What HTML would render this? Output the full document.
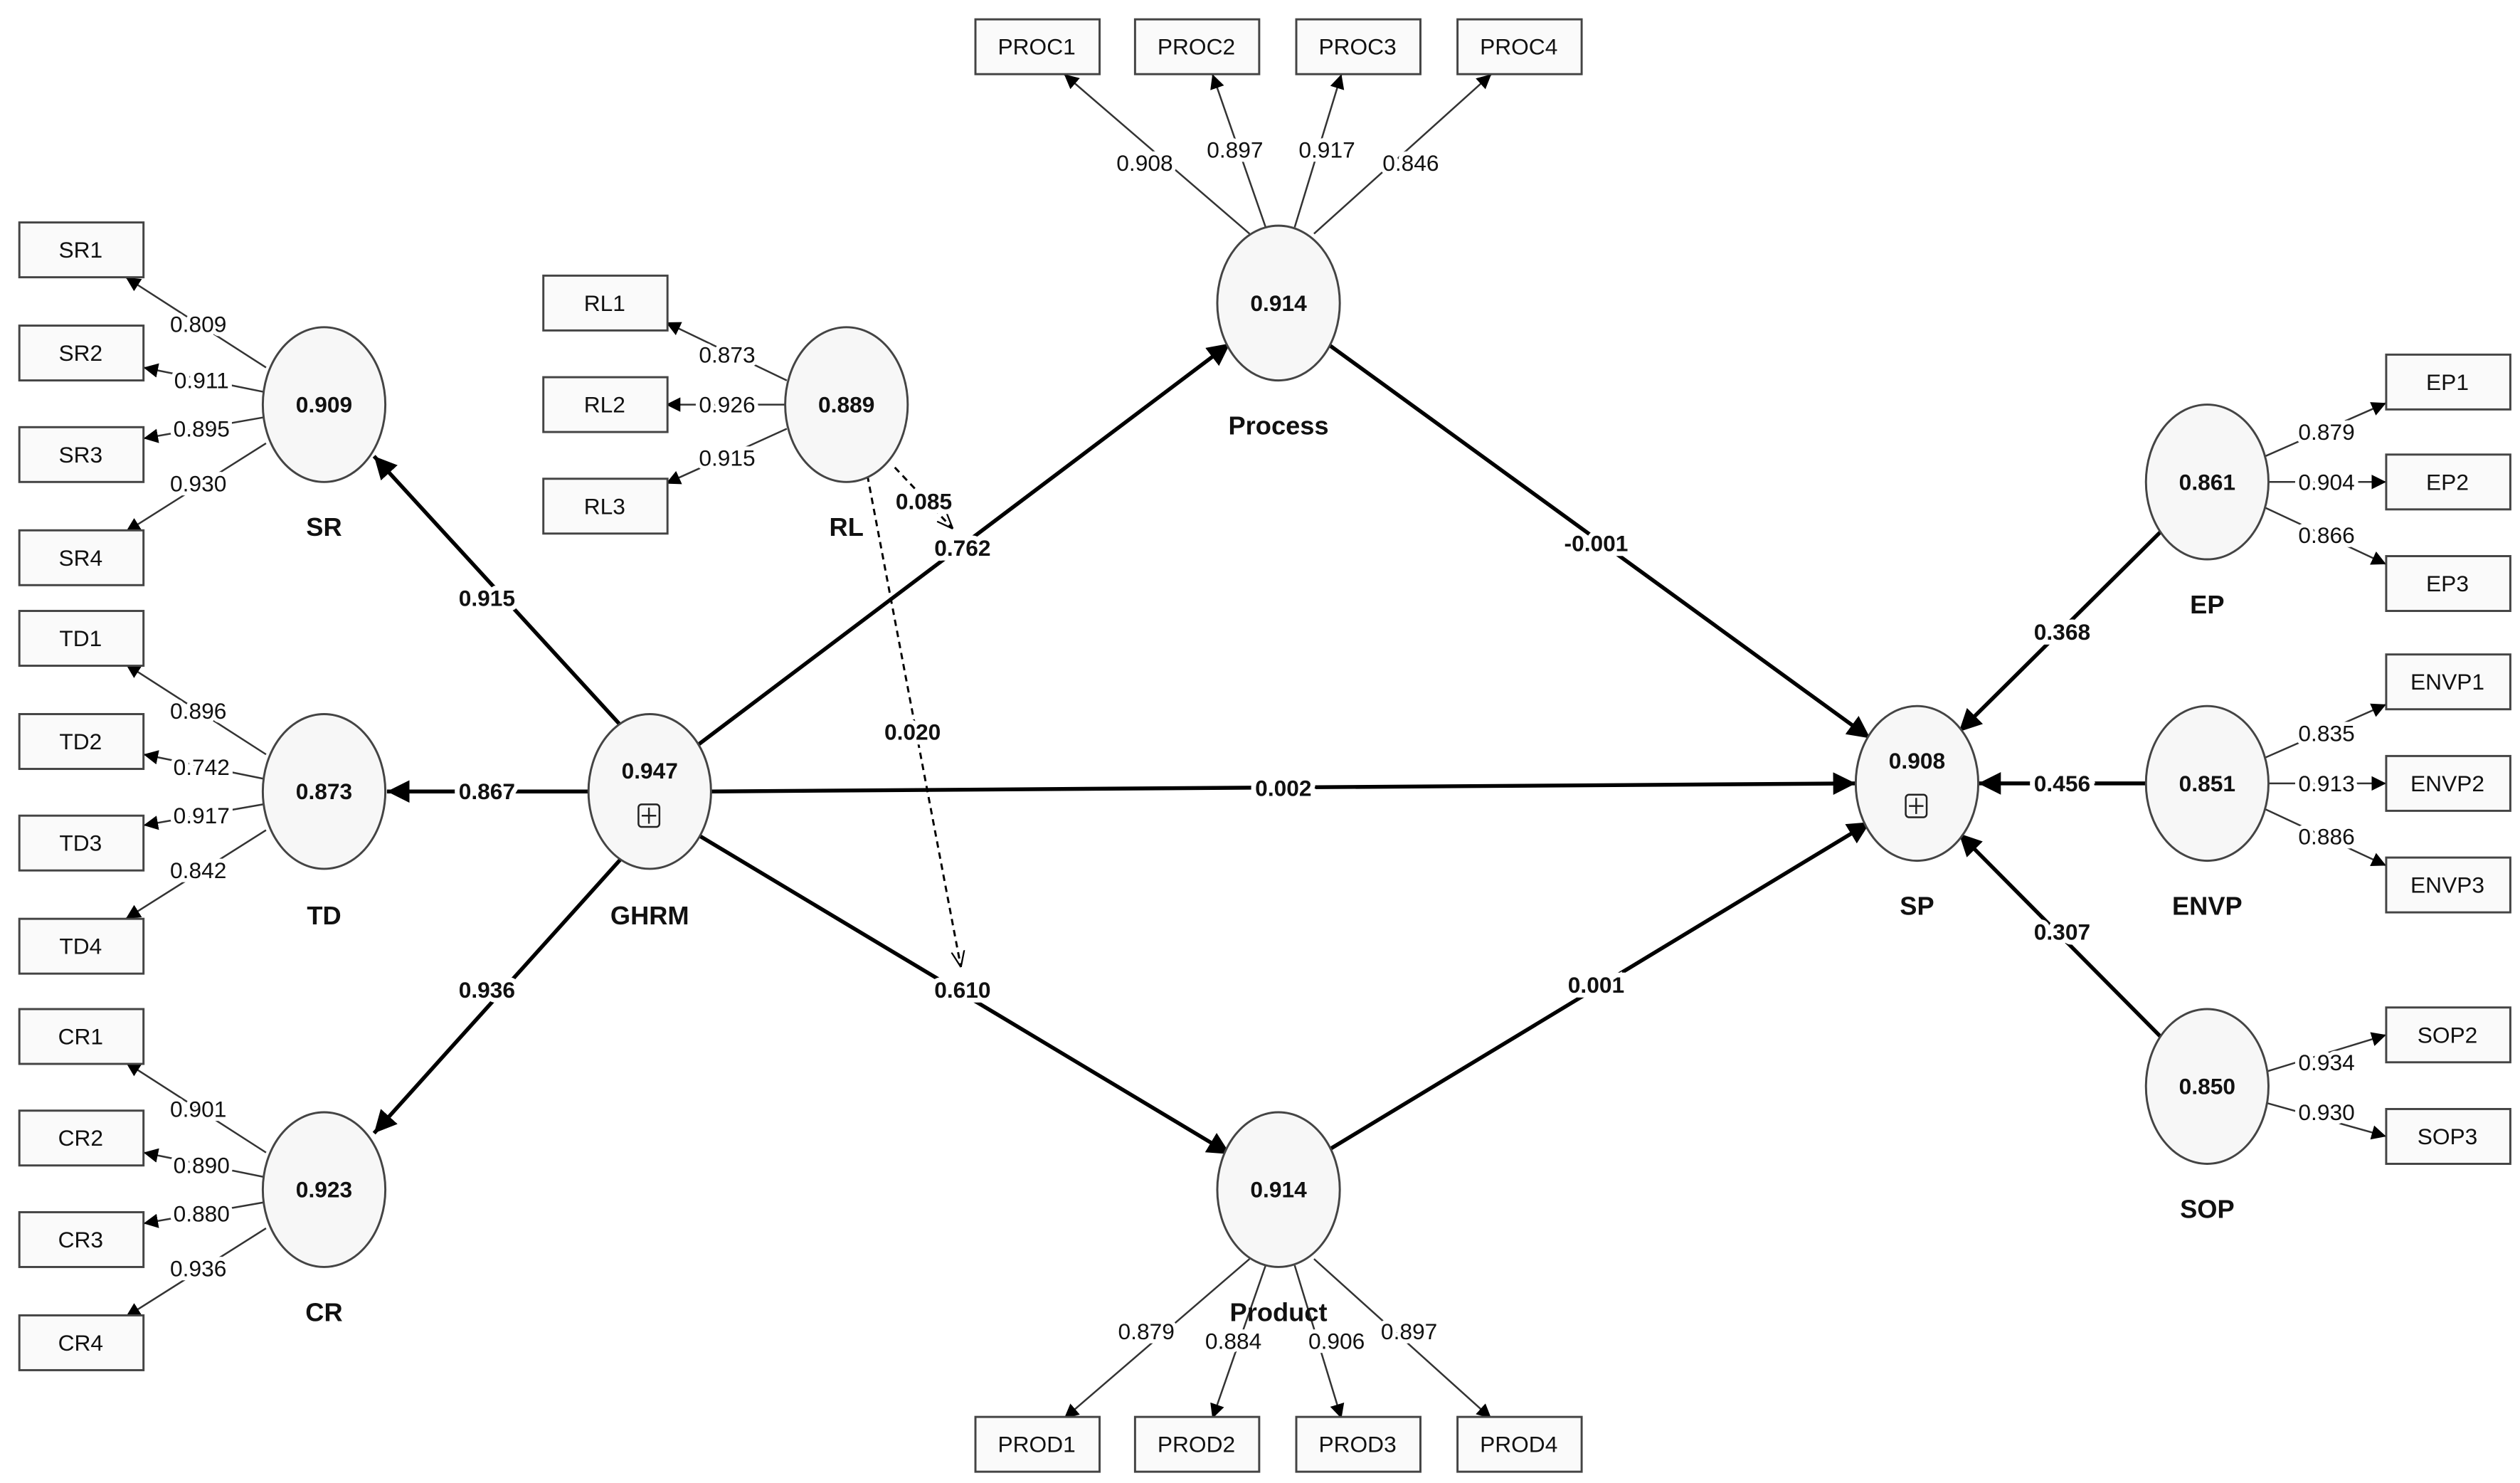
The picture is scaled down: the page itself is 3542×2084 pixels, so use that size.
<!DOCTYPE html>
<html><head><meta charset="utf-8"><style>
html,body{margin:0;padding:0;background:#fff;}
svg{display:block;}
text{font-family:"Liberation Sans Narrow","Liberation Sans",sans-serif;text-anchor:middle;dominant-baseline:central;fill:#111;}
.box{fill:#fafafa;stroke:#444;stroke-width:1.3;}
.ell{fill:#f7f7f7;stroke:#444;stroke-width:1.3;}
.ld{stroke:#333;stroke-width:1.1;fill:none;}
.st{stroke:#000;stroke-width:2.4;fill:none;}
.lbl{font-size:14px;}
.bl{font-size:14px;font-weight:bold;}
.val{font-size:14px;font-weight:bold;}
.nm{font-size:16px;font-weight:bold;}
.bt{font-size:14px;}
</style></head><body>
<svg width="3542" height="2084" viewBox="0 0 1563 920" preserveAspectRatio="none" xmlns="http://www.w3.org/2000/svg">
<defs>
<marker id="a" viewBox="0 0 10 10" refX="10" refY="5" markerWidth="9" markerHeight="9" markerUnits="userSpaceOnUse" orient="auto"><path d="M0,0L10,5L0,10z" fill="#000"/></marker>
<marker id="b" viewBox="0 0 10 10" refX="10" refY="5" markerWidth="14" markerHeight="14" markerUnits="userSpaceOnUse" orient="auto"><path d="M0,0L10,5L0,10z" fill="#000"/></marker>
<marker id="o" viewBox="0 0 10 10" refX="10" refY="5" markerWidth="10" markerHeight="10" markerUnits="userSpaceOnUse" orient="auto"><path d="M0,1L10,5L0,9" fill="none" stroke="#000"/></marker>
</defs>
<g class="ld" marker-end="url(#a)">
<line x1="165" y1="228" x2="78" y2="172"/><line x1="163" y1="243" x2="89" y2="228"/><line x1="163" y1="259" x2="89" y2="272"/><line x1="165" y1="275" x2="78" y2="330"/>
<line x1="165" y1="468" x2="78" y2="412"/><line x1="163" y1="483" x2="89" y2="468"/><line x1="163" y1="499" x2="89" y2="512"/><line x1="165" y1="515" x2="78" y2="570"/>
<line x1="165" y1="715" x2="78" y2="659"/><line x1="163" y1="730" x2="89" y2="715"/><line x1="163" y1="746" x2="89" y2="759"/><line x1="165" y1="762" x2="78" y2="817"/>
<line x1="488" y1="236" x2="413" y2="200"/><line x1="487" y1="251" x2="413" y2="251"/><line x1="488" y1="266" x2="413" y2="300"/>
<line x1="775" y1="145" x2="660" y2="46"/><line x1="785" y1="141" x2="752" y2="46"/><line x1="803" y1="141" x2="832" y2="46"/><line x1="815" y1="145" x2="925" y2="46"/>
<line x1="775" y1="781" x2="660" y2="880"/><line x1="785" y1="785" x2="752" y2="880"/><line x1="803" y1="785" x2="832" y2="880"/><line x1="815" y1="781" x2="925" y2="880"/>
<line x1="1405" y1="283" x2="1480" y2="250"/><line x1="1407" y1="299" x2="1480" y2="299"/><line x1="1405" y1="315" x2="1480" y2="350"/>
<line x1="1405" y1="470" x2="1480" y2="437"/><line x1="1407" y1="486" x2="1480" y2="486"/><line x1="1405" y1="502" x2="1480" y2="537"/>
<line x1="1405" y1="665" x2="1480" y2="642"/><line x1="1405" y1="684" x2="1480" y2="705"/>
</g>
<g class="st" marker-end="url(#b)">
<line x1="385" y1="450" x2="232" y2="283"/><line x1="365" y1="491" x2="240" y2="491"/><line x1="385" y1="533" x2="232" y2="703"/>
<line x1="433" y1="462" x2="763" y2="213"/><line x1="441" y1="491" x2="1151" y2="486"/><line x1="433" y1="518" x2="763" y2="716"/>
<line x1="823" y1="213" x2="1160" y2="458"/><line x1="823" y1="714" x2="1160" y2="510"/>
<line x1="1340" y1="330" x2="1215" y2="454"/><line x1="1331" y1="486" x2="1227" y2="486"/><line x1="1340" y1="643" x2="1215" y2="517"/>
</g>
<g stroke="#000" stroke-width="1.3" stroke-dasharray="4,3" fill="none" marker-end="url(#o)">
<line x1="555" y1="290" x2="591" y2="328"/><line x1="538" y1="295" x2="596" y2="600"/>
</g>
<!-- boxes -->
<g>
<rect class="box" x="12" y="138" width="77" height="34"/><text class="bt" x="50" y="155">SR1</text>
<rect class="box" x="12" y="202" width="77" height="34"/><text class="bt" x="50" y="219">SR2</text>
<rect class="box" x="12" y="265" width="77" height="34"/><text class="bt" x="50" y="282">SR3</text>
<rect class="box" x="12" y="329" width="77" height="34"/><text class="bt" x="50" y="346">SR4</text>
<rect class="box" x="12" y="379" width="77" height="34"/><text class="bt" x="50" y="396">TD1</text>
<rect class="box" x="12" y="443" width="77" height="34"/><text class="bt" x="50" y="460">TD2</text>
<rect class="box" x="12" y="506" width="77" height="34"/><text class="bt" x="50" y="523">TD3</text>
<rect class="box" x="12" y="570" width="77" height="34"/><text class="bt" x="50" y="587">TD4</text>
<rect class="box" x="12" y="626" width="77" height="34"/><text class="bt" x="50" y="643">CR1</text>
<rect class="box" x="12" y="689" width="77" height="34"/><text class="bt" x="50" y="706">CR2</text>
<rect class="box" x="12" y="752" width="77" height="34"/><text class="bt" x="50" y="769">CR3</text>
<rect class="box" x="12" y="816" width="77" height="34"/><text class="bt" x="50" y="833">CR4</text>
<rect class="box" x="337" y="171" width="77" height="34"/><text class="bt" x="375" y="188">RL1</text>
<rect class="box" x="337" y="234" width="77" height="34"/><text class="bt" x="375" y="251">RL2</text>
<rect class="box" x="337" y="297" width="77" height="34"/><text class="bt" x="375" y="314">RL3</text>
<rect class="box" x="605" y="12" width="77" height="34"/><text class="bt" x="643" y="29">PROC1</text>
<rect class="box" x="704" y="12" width="77" height="34"/><text class="bt" x="742" y="29">PROC2</text>
<rect class="box" x="804" y="12" width="77" height="34"/><text class="bt" x="842" y="29">PROC3</text>
<rect class="box" x="904" y="12" width="77" height="34"/><text class="bt" x="942" y="29">PROC4</text>
<rect class="box" x="605" y="879" width="77" height="34"/><text class="bt" x="643" y="896">PROD1</text>
<rect class="box" x="704" y="879" width="77" height="34"/><text class="bt" x="742" y="896">PROD2</text>
<rect class="box" x="804" y="879" width="77" height="34"/><text class="bt" x="842" y="896">PROD3</text>
<rect class="box" x="904" y="879" width="77" height="34"/><text class="bt" x="942" y="896">PROD4</text>
<rect class="box" x="1480" y="220" width="77" height="34"/><text class="bt" x="1518" y="237">EP1</text>
<rect class="box" x="1480" y="282" width="77" height="34"/><text class="bt" x="1518" y="299">EP2</text>
<rect class="box" x="1480" y="345" width="77" height="34"/><text class="bt" x="1518" y="362">EP3</text>
<rect class="box" x="1480" y="406" width="77" height="34"/><text class="bt" x="1518" y="423">ENVP1</text>
<rect class="box" x="1480" y="469" width="77" height="34"/><text class="bt" x="1518" y="486">ENVP2</text>
<rect class="box" x="1480" y="532" width="77" height="34"/><text class="bt" x="1518" y="549">ENVP3</text>
<rect class="box" x="1480" y="625" width="77" height="34"/><text class="bt" x="1518" y="642">SOP2</text>
<rect class="box" x="1480" y="688" width="77" height="34"/><text class="bt" x="1518" y="705">SOP3</text>
</g>
<!-- ellipses -->
<g>
<ellipse class="ell" cx="201" cy="251" rx="38" ry="48"/><text class="val" x="201" y="251">0.909</text><text class="nm" x="201" y="327">SR</text>
<ellipse class="ell" cx="201" cy="491" rx="38" ry="48"/><text class="val" x="201" y="491">0.873</text><text class="nm" x="201" y="568">TD</text>
<ellipse class="ell" cx="201" cy="738" rx="38" ry="48"/><text class="val" x="201" y="738">0.923</text><text class="nm" x="201" y="814">CR</text>
<ellipse class="ell" cx="525" cy="251" rx="38" ry="48"/><text class="val" x="525" y="251">0.889</text><text class="nm" x="525" y="327">RL</text>
<ellipse class="ell" cx="403" cy="491" rx="38" ry="48"/><text class="val" x="403" y="478">0.947</text>
<rect x="396" y="499" width="13" height="14" rx="2" fill="none" stroke="#222" stroke-width="1.1"/><path d="M402.5,501v10M398,506h9" stroke="#222" stroke-width="1.1"/>
<text class="nm" x="403" y="568">GHRM</text>
<ellipse class="ell" cx="793" cy="188" rx="38" ry="48"/><text class="val" x="793" y="188">0.914</text><text class="nm" x="793" y="264">Process</text>
<ellipse class="ell" cx="793" cy="738" rx="38" ry="48"/><text class="val" x="793" y="738">0.914</text><text class="nm" x="793" y="814">Product</text>
<ellipse class="ell" cx="1189" cy="486" rx="38" ry="48"/><text class="val" x="1189" y="472">0.908</text>
<rect x="1182" y="493" width="13" height="14" rx="2" fill="none" stroke="#222" stroke-width="1.1"/><path d="M1188.5,495v10M1184,500h9" stroke="#222" stroke-width="1.1"/>
<text class="nm" x="1189" y="562">SP</text>
<ellipse class="ell" cx="1369" cy="299" rx="38" ry="48"/><text class="val" x="1369" y="299">0.861</text><text class="nm" x="1369" y="375">EP</text>
<ellipse class="ell" cx="1369" cy="486" rx="38" ry="48"/><text class="val" x="1369" y="486">0.851</text><text class="nm" x="1369" y="562">ENVP</text>
<ellipse class="ell" cx="1369" cy="674" rx="38" ry="48"/><text class="val" x="1369" y="674">0.850</text><text class="nm" x="1369" y="750">SOP</text>
</g>
<!-- loading labels -->
<g>
<g fill="#fff">
</g>
<text class="lbl" x="123" y="201" style="paint-order:stroke;stroke:#fff;stroke-width:5">0.809</text>
<text class="lbl" x="125" y="236" style="paint-order:stroke;stroke:#fff;stroke-width:5">0.911</text>
<text class="lbl" x="125" y="266" style="paint-order:stroke;stroke:#fff;stroke-width:5">0.895</text>
<text class="lbl" x="123" y="300" style="paint-order:stroke;stroke:#fff;stroke-width:5">0.930</text>
<text class="lbl" x="123" y="441" style="paint-order:stroke;stroke:#fff;stroke-width:5">0.896</text>
<text class="lbl" x="125" y="476" style="paint-order:stroke;stroke:#fff;stroke-width:5">0.742</text>
<text class="lbl" x="125" y="506" style="paint-order:stroke;stroke:#fff;stroke-width:5">0.917</text>
<text class="lbl" x="123" y="540" style="paint-order:stroke;stroke:#fff;stroke-width:5">0.842</text>
<text class="lbl" x="123" y="688" style="paint-order:stroke;stroke:#fff;stroke-width:5">0.901</text>
<text class="lbl" x="125" y="723" style="paint-order:stroke;stroke:#fff;stroke-width:5">0.890</text>
<text class="lbl" x="125" y="753" style="paint-order:stroke;stroke:#fff;stroke-width:5">0.880</text>
<text class="lbl" x="123" y="787" style="paint-order:stroke;stroke:#fff;stroke-width:5">0.936</text>
<text class="lbl" x="451" y="220" style="paint-order:stroke;stroke:#fff;stroke-width:5">0.873</text>
<text class="lbl" x="451" y="251" style="paint-order:stroke;stroke:#fff;stroke-width:5">0.926</text>
<text class="lbl" x="451" y="284" style="paint-order:stroke;stroke:#fff;stroke-width:5">0.915</text>
<text class="lbl" x="710" y="101" style="paint-order:stroke;stroke:#fff;stroke-width:5">0.908</text>
<text class="lbl" x="766" y="93" style="paint-order:stroke;stroke:#fff;stroke-width:5">0.897</text>
<text class="lbl" x="823" y="93" style="paint-order:stroke;stroke:#fff;stroke-width:5">0.917</text>
<text class="lbl" x="875" y="101" style="paint-order:stroke;stroke:#fff;stroke-width:5">0.846</text>
<text class="lbl" x="711" y="826" style="paint-order:stroke;stroke:#fff;stroke-width:5">0.879</text>
<text class="lbl" x="765" y="832" style="paint-order:stroke;stroke:#fff;stroke-width:5">0.884</text>
<text class="lbl" x="829" y="832" style="paint-order:stroke;stroke:#fff;stroke-width:5">0.906</text>
<text class="lbl" x="874" y="826" style="paint-order:stroke;stroke:#fff;stroke-width:5">0.897</text>
<text class="lbl" x="1443" y="268" style="paint-order:stroke;stroke:#fff;stroke-width:5">0.879</text>
<text class="lbl" x="1443" y="299" style="paint-order:stroke;stroke:#fff;stroke-width:5">0.904</text>
<text class="lbl" x="1443" y="332" style="paint-order:stroke;stroke:#fff;stroke-width:5">0.866</text>
<text class="lbl" x="1443" y="455" style="paint-order:stroke;stroke:#fff;stroke-width:5">0.835</text>
<text class="lbl" x="1443" y="486" style="paint-order:stroke;stroke:#fff;stroke-width:5">0.913</text>
<text class="lbl" x="1443" y="519" style="paint-order:stroke;stroke:#fff;stroke-width:5">0.886</text>
<text class="lbl" x="1443" y="659" style="paint-order:stroke;stroke:#fff;stroke-width:5">0.934</text>
<text class="lbl" x="1443" y="690" style="paint-order:stroke;stroke:#fff;stroke-width:5">0.930</text>
</g>
<!-- path labels -->
<g style="paint-order:stroke;stroke:#fff;stroke-width:6">
<text class="bl" x="302" y="371">0.915</text>
<text class="bl" x="302" y="491">0.867</text>
<text class="bl" x="302" y="614">0.936</text>
<text class="bl" x="597" y="340">0.762</text>
<text class="bl" x="796" y="489">0.002</text>
<text class="bl" x="597" y="614">0.610</text>
<text class="bl" x="990" y="337">-0.001</text>
<text class="bl" x="990" y="611">0.001</text>
<text class="bl" x="1279" y="392">0.368</text>
<text class="bl" x="1279" y="486">0.456</text>
<text class="bl" x="1279" y="578">0.307</text>
<text class="bl" x="573" y="311">0.085</text>
<text class="bl" x="566" y="454">0.020</text>
</g>
</svg>
</body></html>
